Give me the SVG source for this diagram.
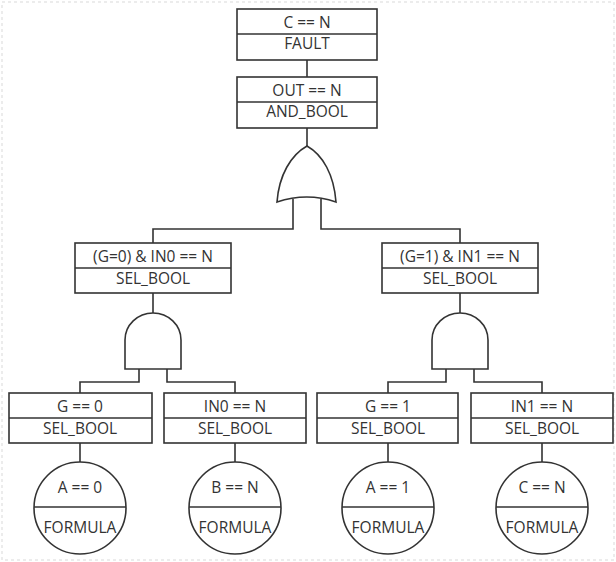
<svg xmlns="http://www.w3.org/2000/svg" width="616" height="562" viewBox="0 0 616 562">
<style>
.b{fill:#fff;stroke:#333;stroke-width:1.6}
.l{fill:none;stroke:#333;stroke-width:1.6}
.t{font-family:"Open Sans","Noto Sans",sans-serif;font-size:15.5px;fill:#333;text-anchor:middle}
</style>
<rect x="0" y="0" width="616" height="562" fill="#fff"/>
<rect x="2" y="2" width="612" height="558" fill="none" stroke="#ececec" stroke-width="2" stroke-dasharray="3 3"/>
<g id="connectors" class="l">
<path d="M307,60V77M307,128V146"/>
<path d="M293,199V229H153V243M321,199V229H460V243"/>
<path d="M153,293V313M460,293V313"/>
<path d="M139,369V382H80V393M167,369V382H235V393"/>
<path d="M446,369V382H388V393M474,369V382H542V393"/>
<path d="M80,443V462M235,443V462M388,443V462M542,443V462"/>
</g>
<g id="top">
<rect class="b" x="237" y="9" width="140" height="51"/>
<path class="l" d="M237,34H377"/>
<text class="t" x="307" y="28">C == N</text>
<text class="t" x="307" y="49">FAULT</text>
</g>
<g id="and_bool">
<rect class="b" x="237" y="77" width="140" height="51"/>
<path class="l" d="M237,102H377"/>
<text class="t" x="307" y="96">OUT == N</text>
<text class="t" x="307" y="117">AND_BOOL</text>
</g>
<g id="or_gate">
<path class="b" d="M277,202C279,175 291,155 307,146C323,155 334,175 336,202Q307,192 277,202Z"/>
</g>
<g id="sel_left">
<rect class="b" x="75" y="243" width="156" height="50"/>
<path class="l" d="M75,268H231"/>
<text class="t" x="153" y="262">(G=0) &amp; IN0 == N</text>
<text class="t" x="153" y="284">SEL_BOOL</text>
</g>
<g id="sel_right">
<rect class="b" x="382" y="243" width="156" height="50"/>
<path class="l" d="M382,268H538"/>
<text class="t" x="460" y="262">(G=1) &amp; IN1 == N</text>
<text class="t" x="460" y="284">SEL_BOOL</text>
</g>
<g id="and_left">
<path class="b" d="M125,369V340A28,27 0 0 1 181,340V369Z"/>
</g>
<g id="and_right">
<path class="b" d="M432,369V340A28,27 0 0 1 488,340V369Z"/>
</g>
<g id="g0">
<rect class="b" x="9" y="393" width="143" height="50"/>
<path class="l" d="M9,418H152"/>
<text class="t" x="80" y="412">G == 0</text>
<text class="t" x="80" y="434">SEL_BOOL</text>
</g>
<g id="in0">
<rect class="b" x="164" y="393" width="142" height="50"/>
<path class="l" d="M164,418H306"/>
<text class="t" x="235" y="412">IN0 == N</text>
<text class="t" x="235" y="434">SEL_BOOL</text>
</g>
<g id="g1">
<rect class="b" x="317" y="393" width="141" height="50"/>
<path class="l" d="M317,418H458"/>
<text class="t" x="388" y="412">G == 1</text>
<text class="t" x="388" y="434">SEL_BOOL</text>
</g>
<g id="in1">
<rect class="b" x="471" y="393" width="142" height="50"/>
<path class="l" d="M471,418H613"/>
<text class="t" x="542" y="412">IN1 == N</text>
<text class="t" x="542" y="434">SEL_BOOL</text>
</g>
<g id="f_a0">
<circle class="b" cx="80" cy="508" r="46"/>
<path class="l" d="M34,507H126"/>
<text class="t" x="80" y="493">A == 0</text>
<text class="t" x="80" y="533">FORMULA</text>
</g>
<g id="f_bn">
<circle class="b" cx="235" cy="508" r="46"/>
<path class="l" d="M189,507H281"/>
<text class="t" x="235" y="493">B == N</text>
<text class="t" x="235" y="533">FORMULA</text>
</g>
<g id="f_a1">
<circle class="b" cx="388" cy="508" r="46"/>
<path class="l" d="M342,507H434"/>
<text class="t" x="388" y="493">A == 1</text>
<text class="t" x="388" y="533">FORMULA</text>
</g>
<g id="f_cn">
<circle class="b" cx="542" cy="508" r="46"/>
<path class="l" d="M496,507H588"/>
<text class="t" x="542" y="493">C == N</text>
<text class="t" x="542" y="533">FORMULA</text>
</g>
</svg>
